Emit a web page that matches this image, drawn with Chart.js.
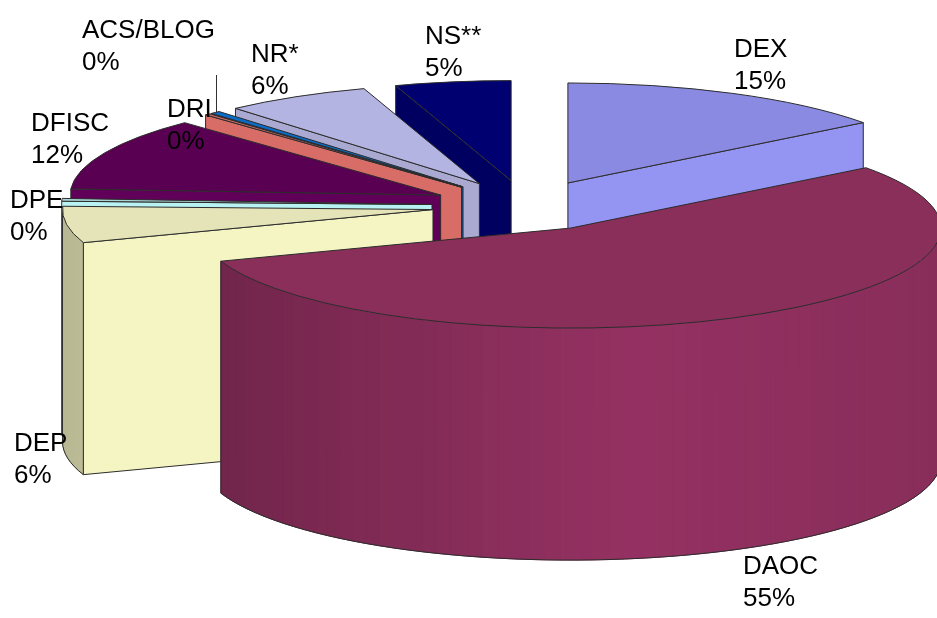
<!DOCTYPE html>
<html>
<head>
<meta charset="utf-8">
<style>html,body{margin:0;padding:0;background:#fff}#w{width:937px;height:618px;overflow:hidden}canvas{display:block}</style>
<script src="https://cdn.jsdelivr.net/npm/chart.js@4/dist/chart.umd.min.js"></script>
</head>
<body>
<div id="w"><canvas id="c" width="937" height="618"></canvas></div>
<script>
// Data
const categories = ['DEX','DAOC','DEP','DPE','DFISC','DRI','ACS/BLOG','NR*','NS**'];
const shares = [14.7,55.0,5.9,0.45,11.9,0.25,0.45,6.4,5.05];
const percentLabels = ['15%','55%','6%','0%','12%','0%','0%','6%','5%'];
// Style
const topColors = ['#8a8ae2','#8a2f5a','#e5e3b8','#a9d3d3','#5a0052','#cf6a63','#0a6cc8','#b4b4e2','#000070'];
const wallColors = ['#9494f2','#943162','#f5f5c4','#b8f2f2','#600058','#d86d68','#0a58a0','#a9a9d2','#000060'];
const paintOrder = [0,8,7,6,5,4,3,2,1];
// Label layout: [x, baseline of first line]
const labelAnchors = [[734,57],[743,574],[14,451],[10,208],[31,131],[167,117],[82,38],[251,62],[425,44]];
const lineGap = 32;
// Projection of the pie plane onto the page
const view = {cx:526, cy:205.7, a:370.5, b:100, depth:232, explode:0.254};

function rgb(hex,f){
  const n=parseInt(hex.slice(1),16);
  return 'rgb('+[(n>>16)&255,(n>>8)&255,n&255].map(v=>Math.round(v*f)).join(',')+')';
}
function shade(nx){
  return nx<0.2 ? 1-0.25*Math.pow((0.2-nx)/1.2,1.2) : 1-0.08*((nx-0.2)/0.8);
}
const pie3d = {
  id:'pie3d',
  beforeDatasetDraw(chart,args){
    const ctx=chart.ctx, arcs=chart.getDatasetMeta(args.index).data;
    const edge='#2c2c2c';
    paintOrder.forEach(i=>{
      const el=arcs[i], s=el.startAngle, e=el.endAngle, m=(s+e)/2;
      const ox=view.cx+view.explode*view.a*Math.cos(m), oy=view.cy+view.explode*view.b*Math.sin(m);
      const P=(ang,dz)=>[ox+view.a*Math.cos(ang), oy+view.b*Math.sin(ang)+(dz||0)];
      const A=[ox,oy];
      ctx.save();
      ctx.lineWidth=1; ctx.strokeStyle=edge; ctx.lineJoin='round';
      // radial cut walls, only those facing the viewer
      [[s,-Math.cos(s)],[e,Math.cos(e)]].forEach(([ang,facing])=>{
        if(facing<=0) return;
        const p=P(ang);
        ctx.beginPath();
        ctx.moveTo(A[0],A[1]); ctx.lineTo(p[0],p[1]);
        ctx.lineTo(p[0],p[1]+view.depth); ctx.lineTo(A[0],A[1]+view.depth);
        ctx.closePath();
        ctx.fillStyle=wallColors[i]; ctx.fill(); ctx.stroke();
      });
      // curved outer wall (front half only)
      const a0=Math.max(s,0), a1=Math.min(e,Math.PI);
      if(a1>a0){
        const n=Math.max(2,Math.ceil((a1-a0)/(Math.PI/72)));
        for(let k=0;k<n;k++){
          const u=a0+(a1-a0)*k/n, v=a0+(a1-a0)*(k+1)/n;
          const c=rgb(wallColors[i],shade(Math.cos((u+v)/2)));
          const p=P(u),q=P(v);
          ctx.beginPath();
          ctx.moveTo(p[0],p[1]); ctx.lineTo(q[0],q[1]);
          ctx.lineTo(q[0],q[1]+view.depth); ctx.lineTo(p[0],p[1]+view.depth);
          ctx.closePath();
          ctx.fillStyle=c; ctx.strokeStyle=c; ctx.fill(); ctx.stroke();
        }
        ctx.strokeStyle=edge;
        ctx.beginPath();
        let p=P(a1); ctx.moveTo(p[0],p[1]); ctx.lineTo(p[0],p[1]+view.depth);
        for(let k=1;k<=n;k++){ p=P(a1-(a1-a0)*k/n,view.depth); ctx.lineTo(p[0],p[1]); }
        ctx.lineTo(p[0],p[1]-view.depth);
        ctx.stroke();
      }
      // top face
      ctx.beginPath();
      ctx.moveTo(A[0],A[1]);
      ctx.ellipse(ox,oy,view.a,view.b,0,s,e);
      ctx.closePath();
      ctx.fillStyle=topColors[i]; ctx.strokeStyle=edge; ctx.fill(); ctx.stroke();
      ctx.restore();
    });
    return false;
  },
  afterDraw(chart){
    const ctx=chart.ctx;
    ctx.save();
    ctx.strokeStyle='#333'; ctx.lineWidth=1;
    ctx.beginPath(); ctx.moveTo(216.5,75); ctx.lineTo(216.5,113); ctx.stroke();
    ctx.fillStyle='#000';
    ctx.font='26px "Liberation Sans", Arial, sans-serif';
    ctx.textAlign='left'; ctx.textBaseline='alphabetic';
    categories.forEach((name,i)=>{
      const at=labelAnchors[i];
      ctx.fillText(name,at[0],at[1]);
      ctx.fillText(percentLabels[i],at[0],at[1]+lineGap);
    });
    ctx.restore();
  }
};
new Chart(document.getElementById('c'),{
  type:'pie',
  data:{labels:categories,datasets:[{data:shares,backgroundColor:topColors,borderColor:'#2c2c2c',borderWidth:1}]},
  options:{responsive:false,animation:false,rotation:0,
    plugins:{legend:{display:false},tooltip:{enabled:false},title:{display:false}}},
  plugins:[pie3d]
});
</script>
</body>
</html>
